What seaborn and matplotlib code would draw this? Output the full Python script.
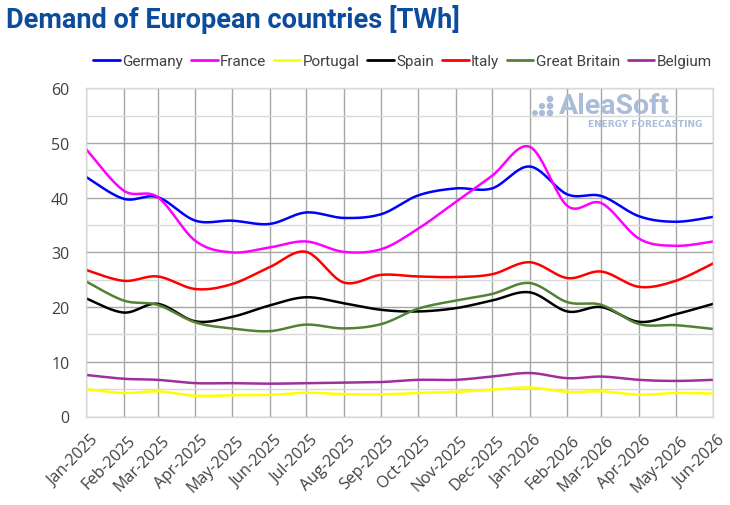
import numpy as np
import pandas as pd
import matplotlib
matplotlib.use("Agg")
import matplotlib.pyplot as plt
import matplotlib.dates as mdates
import matplotlib.transforms as mtransforms
from matplotlib.patches import Ellipse
from matplotlib.ticker import MultipleLocator
import seaborn as sns

# monthly electricity demand, TWh
months = pd.date_range("2025-01-01", "2026-06-01", freq="MS")
countries = ["Germany", "France", "Portugal", "Spain", "Italy", "Great Britain", "Belgium"]
germany = [43.8, 39.8, 40.1, 35.8, 35.8, 35.2, 37.3, 36.3, 37.0, 40.4, 41.7, 41.7, 45.7, 40.6, 40.3, 36.6, 35.6, 36.5]
france = [48.9, 41.3, 40.1, 32.1, 30.0, 30.9, 32.0, 30.1, 30.6, 34.3, 39.2, 44.0, 49.3, 38.5, 39.0, 32.5, 31.2, 32.0]
portugal = [5.0, 4.3, 4.6, 3.8, 3.9, 3.95, 4.35, 4.1, 4.05, 4.3, 4.5, 4.9, 5.3, 4.5, 4.6, 4.0, 4.3, 4.2]
spain = [21.6, 19.0, 20.6, 17.4, 18.2, 20.3, 21.8, 20.7, 19.5, 19.2, 19.8, 21.2, 22.7, 19.2, 20.0, 17.3, 18.7, 20.6]
italy = [26.8, 24.8, 25.6, 23.3, 24.2, 27.3, 30.1, 24.5, 25.9, 25.6, 25.5, 26.0, 28.2, 25.3, 26.5, 23.7, 24.8, 28.0]
great_britain = [24.7, 21.2, 20.4, 17.2, 16.1, 15.6, 16.8, 16.1, 16.9, 19.7, 21.2, 22.4, 24.4, 20.9, 20.4, 16.9, 16.7, 16.0]
belgium = [7.6, 6.9, 6.7, 6.1, 6.1, 6.0, 6.1, 6.2, 6.3, 6.7, 6.7, 7.3, 7.95, 7.0, 7.3, 6.7, 6.5, 6.7]

series = [germany, france, portugal, spain, italy, great_britain, belgium]
colors = ["#0000ff", "#ff00ff", "#ffff00", "#000000", "#ff0000", "#548235", "#9e2f9e"]


def smooth_path(x, y, n=24):
    # Excel-style smoothed line: cubic Bezier through the points
    pts = np.column_stack([x, y])
    pad = np.vstack([pts[0], pts, pts[-1]])
    t = np.linspace(0, 1, n, endpoint=False)[:, None]
    segs = []
    for i in range(len(pts) - 1):
        p0, p1, p2, p3 = pad[i], pad[i + 1], pad[i + 2], pad[i + 3]
        c1 = p1 + (p2 - p0) / 6
        c2 = p2 - (p3 - p1) / 6
        segs.append((1 - t) ** 3 * p1 + 3 * (1 - t) ** 2 * t * c1 + 3 * (1 - t) * t ** 2 * c2 + t ** 3 * p2)
    segs.append(pts[-1:])
    return np.vstack(segs)


xnum = mdates.date2num(months)
frames = []
for name, vals in zip(countries, series):
    path = smooth_path(xnum, np.array(vals, dtype=float))
    frames.append(pd.DataFrame({"date": path[:, 0], "value": path[:, 1], "country": name}))
df = pd.concat(frames, ignore_index=True)

sns.set_theme(style="white")
plt.rcParams["font.family"] = ["Open Sans", "DejaVu Sans"]

fig = plt.figure(figsize=(7.3, 5.06), dpi=100)
ax = fig.add_axes([86 / 730, 1 - 417.5 / 506, (713.3 - 86) / 730, (417.5 - 89.3) / 506])

sns.lineplot(data=df, x="date", y="value", hue="country", hue_order=countries,
             palette=dict(zip(countries, colors)), sort=False, estimator=None,
             units="country", linewidth=1.8, ax=ax, legend=False)

ax.set_xlim(xnum[0], xnum[-1])
ax.set_ylim(0, 60)
ax.set_xlabel("")
ax.set_ylabel("")

# grid
ax.yaxis.set_major_locator(MultipleLocator(10))
ax.yaxis.set_minor_locator(MultipleLocator(5))
ax.set_xticks(xnum)
ax.grid(True, which="major", axis="both", color="#a6a6a6", linewidth=1.0)
ax.grid(True, which="minor", axis="y", color="#d9d9d9", linewidth=1.0)
ax.set_axisbelow(True)
for s in ax.spines.values():
    s.set_visible(True)
    s.set_color("#d9d9d9")
    s.set_linewidth(1.0)
    s.set_zorder(3)

ax.set_xticklabels([d.strftime("%b-%Y") for d in months])
ax.tick_params(axis="both", which="both", length=0, labelsize=11.5, labelcolor="#404040")
ax.tick_params(axis="y", pad=12)
ax.tick_params(axis="x", pad=11)
offset = mtransforms.ScaledTranslation(4 / 100, 0, fig.dpi_scale_trans)
for lab in ax.get_xticklabels():
    lab.set_rotation(45)
    lab.set_ha("right")
    lab.set_va("top")
    lab.set_rotation_mode("anchor")
    lab.set_transform(lab.get_transform() + offset)

# legend
handles = [plt.Line2D([], [], color=c, linewidth=2) for c in colors]
fig.legend(handles, countries, loc="center", bbox_to_anchor=((95 + 710) / 2 / 730, 1 - 62 / 506),
           ncol=7, frameon=False, handlelength=1.75, handletextpad=0.15, columnspacing=0.5,
           prop={"family": "Roboto", "size": 11}, labelcolor="#404040", borderpad=0, borderaxespad=0)

# title
fig.text(6 / 730, 1 - 20 / 506, "Demand of European countries [TWh]", fontsize=19.5,
         fontweight="bold", color="#0b4c9c", family="Roboto", ha="left", va="center")

# watermark
wm = "#a9bdd9"
fig.text(559 / 730, 1 - 107 / 506, "AleaSoft", fontsize=20.5, fontweight="bold", color=wm,
         family="Roboto", ha="left", va="center")
fig.text(588 / 730, 1 - 124.5 / 506, "ENERGY FORECASTING", fontsize=6.4, fontweight="bold",
         color=wm, family="DejaVu Sans", ha="left", va="center")
for cx, cy, r in [(535, 114, 2.2), (542, 114, 2.4), (542, 107, 2.4), (550, 114, 2.6),
                  (550, 107, 2.6), (550, 100, 2.6)]:
    fig.add_artist(Ellipse((cx / 730, 1 - cy / 506), 2 * r / 730, 2 * r / 506,
                           transform=fig.transFigure, color=wm, zorder=5))

fig.savefig("out.png", dpi=100)
